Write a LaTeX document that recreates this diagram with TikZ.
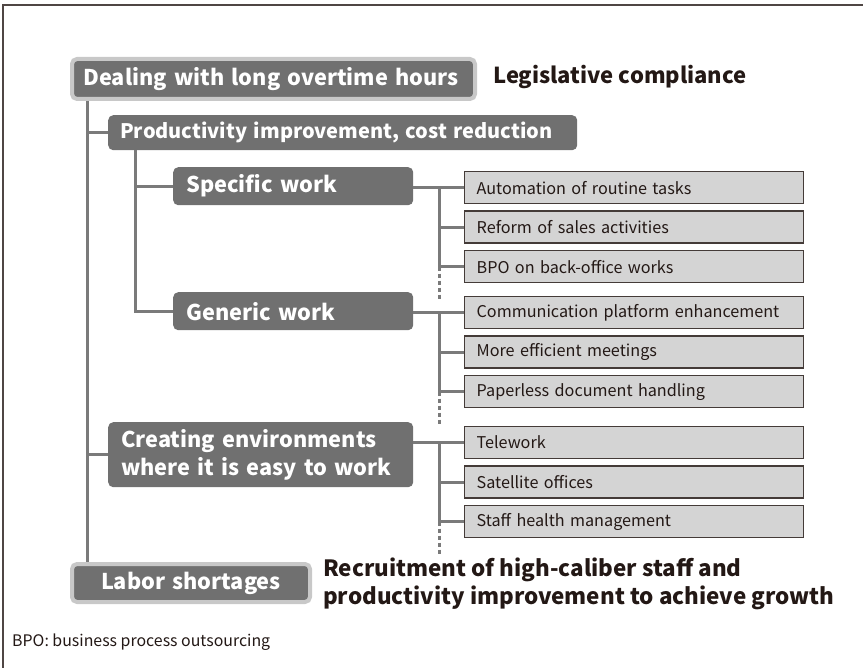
\documentclass[tikz,border=0pt]{standalone}
\usepackage{fontspec}
\setmainfont{Noto Sans CJK JP}
\usetikzlibrary{positioning}
\definecolor{boxgray}{HTML}{707070}
\definecolor{rimgray}{HTML}{C8C8C8}
\definecolor{itemgray}{HTML}{D4D4D4}
\definecolor{linegray}{HTML}{7A7A7A}
\definecolor{inkdark}{HTML}{231815}
\tikzset{
    topic/.style={fill=boxgray, rounded corners=5pt, text=white, anchor=north west,
        font=\bfseries\fontsize{21.7}{28}\selectfont, inner xsep=13pt, inner ysep=0pt, align=left}, % dark grey heading boxes
    rimmed/.style={draw=rimgray, line width=4pt}, % light rim round the two outer headings
    item/.style={draw=inkdark!85, line width=1.3pt, fill=itemgray, text=inkdark, anchor=north west,
        minimum width=339pt, minimum height=32pt, text width=315pt, inner xsep=12pt, align=left,
        font=\fontsize{16.2}{19}\selectfont}, % light grey measure boxes
    aim/.style={text=inkdark, anchor=west, align=left, inner sep=0pt,
        font=\bfseries\fontsize{22.4}{28}\selectfont}, % black goal texts
    wire/.style={draw=linegray, line width=3pt}, % tree lines
    node distance=6.2pt, % gap between measure boxes
}
\begin{document}
\begin{tikzpicture}[x=1pt, y=-1pt]
    \useasboundingbox (0,0) rectangle (863,668);
    \draw[inkdark!80, line width=1.2pt] (3,668) -- (3,5) -- (863,5);

    % headings
    \node[topic, rimmed, minimum height=40pt, text width=380pt, inner xsep=11.5pt] (overtime) at (70,57) {Dealing with long overtime hours};
    \node[aim, font=\bfseries\fontsize{22}{28}\selectfont] (legis) at (493,77) {Legislative compliance};
    \node[topic, minimum height=35pt, text width=445pt, font=\bfseries\fontsize{20}{24}\selectfont, inner xsep=12pt] (prod) at (108,115) {Productivity improvement, cost reduction};
    \node[topic, minimum height=38pt, text width=214pt] (spec) at (173,167) {Specific work};
    \node[topic, minimum height=38pt, text width=214pt] (gen) at (173,292) {Generic work};
    \node[topic, minimum height=65pt, text width=279pt] (env) at (108,422) {Creating environments\\where it is easy to work};
    \node[topic, rimmed, minimum height=38pt, text width=212pt, align=center] (labor) at (70,562) {Labor shortages};
    \node[aim] (recruit) at (323,584) {Recruitment of high-caliber staff and\\productivity improvement to achieve growth};

    % measures
    \node[item] (a1) at (464,171) {Automation of routine tasks};
    \node[item, below=of a1] (a2) {Reform of sales activities};
    \node[item, below=of a2] (a3) {BPO on back-office works};
    \node[item] (b1) at (464,296) {Communication platform enhancement};
    \node[item, below=of b1] (b2) {More efficient meetings};
    \node[item, below=of b2] (b3) {Paperless document handling};
    \node[item] (c1) at (464,426) {Telework};
    \node[item, below=of c1] (c2) {Satellite offices};
    \node[item, below=of c2] (c3) {Staff health management};

    % tree lines
    \coordinate (trunk) at (87,0);
    \coordinate (sub) at (135,0);
    \coordinate (fork) at (439,0);
    \draw[wire] (overtime.south -| trunk) -- (labor.north -| trunk);
    \draw[wire] (prod.west) -- (prod.west -| trunk);
    \draw[wire] (env.west) -- (env.west -| trunk);
    \draw[wire] (prod.south -| sub) |- (spec.west);
    \draw[wire] (prod.south -| sub) |- (gen.west);
    \foreach \grp/\from in {a/spec, b/gen, c/env} {
        \draw[wire] (\grp1.west -| \from.east) -- (\grp1.west);
        \draw[wire] (\grp1.west -| fork) -- (\grp3.west -| fork);
        \draw[wire] (\grp2.west) -- (\grp2.west -| fork);
        \draw[wire] (\grp3.west) -- (\grp3.west -| fork);
        \draw[wire, dash pattern=on 4pt off 3pt] (\grp3.west -| fork) -- ++(0,33);
    }

    \node[anchor=west, text=inkdark, inner sep=0pt, font=\fontsize{15.9}{19}\selectfont] (note) at (12,642) {BPO: business process outsourcing};
\end{tikzpicture}
\end{document}
